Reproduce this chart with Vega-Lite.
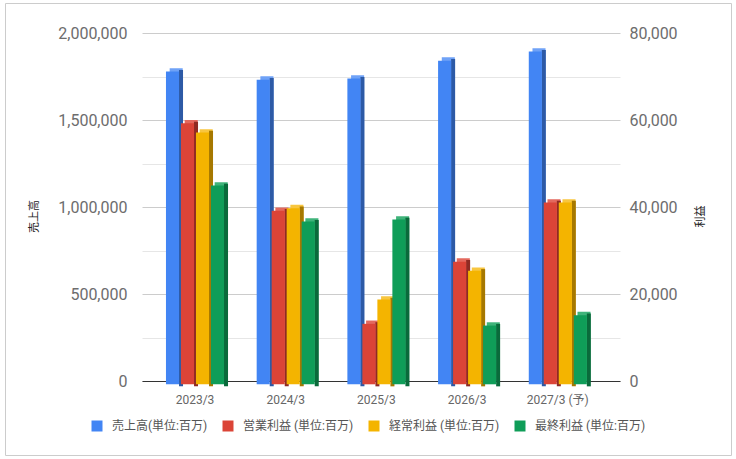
{
  "$schema": "https://vega.github.io/schema/vega-lite/v6.json",
  "width": 726,
  "height": 452,
  "autosize": "none",
  "padding": {"left": 5, "top": 3, "right": 5, "bottom": 4},
  "config": {
    "font": "Roboto, 'Noto Sans CJK JP'",
    "view": {"stroke": "#cccccc", "strokeWidth": 1}
  },
  "data": {
    "values": [
      {"year": "2023/3", "series": "売上高(単位:百万)", "value": 1797000},
      {"year": "2023/3", "series": "営業利益 (単位:百万)", "value": 60000},
      {"year": "2023/3", "series": "経常利益 (単位:百万)", "value": 57900},
      {"year": "2023/3", "series": "最終利益 (単位:百万)", "value": 45700},
      {"year": "2024/3", "series": "売上高(単位:百万)", "value": 1751000},
      {"year": "2024/3", "series": "営業利益 (単位:百万)", "value": 39900},
      {"year": "2024/3", "series": "経常利益 (単位:百万)", "value": 40500},
      {"year": "2024/3", "series": "最終利益 (単位:百万)", "value": 37400},
      {"year": "2025/3", "series": "売上高(単位:百万)", "value": 1757000},
      {"year": "2025/3", "series": "営業利益 (単位:百万)", "value": 13900},
      {"year": "2025/3", "series": "経常利益 (単位:百万)", "value": 19500},
      {"year": "2025/3", "series": "最終利益 (単位:百万)", "value": 37900},
      {"year": "2026/3", "series": "売上高(単位:百万)", "value": 1860000},
      {"year": "2026/3", "series": "営業利益 (単位:百万)", "value": 28200},
      {"year": "2026/3", "series": "経常利益 (単位:百万)", "value": 26100},
      {"year": "2026/3", "series": "最終利益 (単位:百万)", "value": 13500},
      {"year": "2027/3 (予)", "series": "売上高(単位:百万)", "value": 1912000},
      {"year": "2027/3 (予)", "series": "営業利益 (単位:百万)", "value": 41800},
      {"year": "2027/3 (予)", "series": "経常利益 (単位:百万)", "value": 41800},
      {"year": "2027/3 (予)", "series": "最終利益 (単位:百万)", "value": 15900}
    ]
  },
  "encoding": {
    "x": {
      "field": "year",
      "type": "nominal",
      "sort": null,
      "scale": {"range": [137, 615], "paddingInner": 0.338, "paddingOuter": 0.304, "align": 0.417},
      "axis": {
        "title": null,
        "labelAngle": 0,
        "offset": -74,
        "ticks": false,
        "grid": false,
        "domainColor": "#333333",
        "labelPadding": 13,
        "labelFontSize": 12,
        "labelColor": "#666666"
      }
    }
  },
  "layer": [
    {
      "transform": [{"filter": "datum.series === '売上高(単位:百万)'"}],
      "encoding": {
        "y": {
          "field": "value",
          "type": "quantitative",
          "scale": {"domain": [0, 2000000], "range": [378, 30], "nice": false},
          "axis": {
            "orient": "left",
            "offset": -137,
            "values": [0, 250000, 500000, 750000, 1000000, 1250000, 1500000, 1750000, 2000000],
            "format": ",d",
            "labelExpr": "datum.value % 500000 === 0 ? datum.label : ''",
            "domain": false,
            "ticks": false,
            "labelPadding": 15,
            "labelFontSize": 16,
            "labelColor": "#6d6d6d",
            "grid": true,
            "gridColor": {"condition": {"test": "datum.value % 500000 === 0", "value": "#cccccc"}, "value": "#e6e6e6"},
            "title": "売上高",
            "titleY": 213,
            "titleFontSize": 11,
            "titleFontWeight": "normal",
            "titleColor": "#222222",
            "titlePadding": 18
          }
        }
      },
      "layer": [
        {
          "mark": {"type": "bar"},
          "encoding": {
            "xOffset": {
              "field": "series", "type": "nominal",
              "scale": {
                "domain": ["売上高(単位:百万)", "営業利益 (単位:百万)", "経常利益 (単位:百万)", "最終利益 (単位:百万)"],
                "range": [3.7, 63.7], "paddingInner": 0.13, "paddingOuter": 0.065
              }
            },
            "fill": {
              "field": "series",
              "type": "nominal",
              "scale": {
                "domain": ["最終利益 (単位:百万)", "経常利益 (単位:百万)", "営業利益 (単位:百万)", "売上高(単位:百万)"],
                "range": ["#3fb37a", "#f8c63f", "#e3695e", "#6fa2f7"]
              },
              "legend": null
            }
          }
        },
        {
          "mark": {"type": "bar", "fillOpacity": 0, "strokeWidth": 3.7, "strokeJoin": "miter", "yOffset": 3.5, "y2Offset": 1.5},
          "encoding": {
            "xOffset": {
              "field": "series", "type": "nominal",
              "scale": {
                "domain": ["売上高(単位:百万)", "営業利益 (単位:百万)", "経常利益 (単位:百万)", "最終利益 (単位:百万)"],
                "range": [8.53, 68.53], "paddingInner": 0.98, "paddingOuter": 0.49
              }
            },
            "stroke": {
              "field": "series",
              "type": "nominal",
              "scale": {
                "domain": ["営業利益 (単位:百万)", "売上高(単位:百万)", "最終利益 (単位:百万)", "経常利益 (単位:百万)"],
                "range": ["#8f2b23", "#2d5aa6", "#0a6a3b", "#a67800"]
              },
              "legend": null
            }
          }
        },
        {
          "mark": {"type": "bar", "yOffset": 3.3, "y2Offset": 3.3},
          "encoding": {
            "xOffset": {
              "field": "series", "type": "nominal",
              "scale": {
                "domain": ["売上高(単位:百万)", "営業利益 (単位:百万)", "経常利益 (単位:百万)", "最終利益 (単位:百万)"],
                "range": [0, 60], "paddingInner": 0.13, "paddingOuter": 0.065
              }
            },
            "color": {
              "field": "series",
              "type": "nominal",
              "scale": {
                "domain": ["売上高(単位:百万)", "営業利益 (単位:百万)", "経常利益 (単位:百万)", "最終利益 (単位:百万)"],
                "range": ["#4285f4", "#db4437", "#f4b400", "#0f9d58"]
              },
              "legend": {
                "orient": "none",
                "legendX": 86,
                "legendY": 417,
                "direction": "horizontal",
                "columns": 4,
                "title": null,
                "symbolType": "square",
                "symbolSize": 121,
                "symbolStrokeWidth": 0,
                "symbolOpacity": 1,
                "labelFontSize": 12,
                "labelColor": "#555555",
                "labelOffset": 9,
                "columnPadding": 14
              }
            }
          }
        }
      ],
      "resolve": {"scale": {"xOffset": "independent"}}
    },
    {
      "transform": [{"filter": "datum.series !== '売上高(単位:百万)'"}],
      "encoding": {
        "y": {
          "field": "value",
          "type": "quantitative",
          "scale": {"domain": [0, 80000], "range": [378, 30], "nice": false},
          "axis": {
            "orient": "right",
            "offset": -111,
            "values": [0, 20000, 40000, 60000, 80000],
            "format": ",d",
            "domain": false,
            "ticks": false,
            "grid": false,
            "labelPadding": 9,
            "labelFontSize": 16,
            "labelColor": "#6d6d6d",
            "title": "利益",
            "titleAngle": 270,
            "titleY": 213,
            "titleFontSize": 11,
            "titleFontWeight": "normal",
            "titleColor": "#222222",
            "titlePadding": 28
          }
        }
      },
      "layer": [
        {
          "mark": {"type": "bar"},
          "encoding": {
            "xOffset": {
              "field": "series", "type": "nominal",
              "scale": {
                "domain": ["売上高(単位:百万)", "営業利益 (単位:百万)", "経常利益 (単位:百万)", "最終利益 (単位:百万)"],
                "range": [3.7, 63.7], "paddingInner": 0.13, "paddingOuter": 0.065
              }
            },
            "fill": {
              "field": "series",
              "type": "nominal",
              "scale": {
                "domain": ["最終利益 (単位:百万)", "経常利益 (単位:百万)", "営業利益 (単位:百万)", "売上高(単位:百万)"],
                "range": ["#3fb37a", "#f8c63f", "#e3695e", "#6fa2f7"]
              },
              "legend": null
            }
          }
        },
        {
          "mark": {"type": "bar", "fillOpacity": 0, "strokeWidth": 3.7, "strokeJoin": "miter", "yOffset": 3.5, "y2Offset": 1.5},
          "encoding": {
            "xOffset": {
              "field": "series", "type": "nominal",
              "scale": {
                "domain": ["売上高(単位:百万)", "営業利益 (単位:百万)", "経常利益 (単位:百万)", "最終利益 (単位:百万)"],
                "range": [8.53, 68.53], "paddingInner": 0.98, "paddingOuter": 0.49
              }
            },
            "stroke": {
              "field": "series",
              "type": "nominal",
              "scale": {
                "domain": ["営業利益 (単位:百万)", "売上高(単位:百万)", "最終利益 (単位:百万)", "経常利益 (単位:百万)"],
                "range": ["#8f2b23", "#2d5aa6", "#0a6a3b", "#a67800"]
              },
              "legend": null
            }
          }
        },
        {
          "mark": {"type": "bar", "yOffset": 3.3, "y2Offset": 3.3},
          "encoding": {
            "xOffset": {
              "field": "series", "type": "nominal",
              "scale": {
                "domain": ["売上高(単位:百万)", "営業利益 (単位:百万)", "経常利益 (単位:百万)", "最終利益 (単位:百万)"],
                "range": [0, 60], "paddingInner": 0.13, "paddingOuter": 0.065
              }
            },
            "color": {
              "field": "series",
              "type": "nominal",
              "scale": {
                "domain": ["売上高(単位:百万)", "営業利益 (単位:百万)", "経常利益 (単位:百万)", "最終利益 (単位:百万)"],
                "range": ["#4285f4", "#db4437", "#f4b400", "#0f9d58"]
              },
              "legend": {
                "orient": "none",
                "legendX": 86,
                "legendY": 417,
                "direction": "horizontal",
                "columns": 4,
                "title": null,
                "symbolType": "square",
                "symbolSize": 121,
                "symbolStrokeWidth": 0,
                "symbolOpacity": 1,
                "labelFontSize": 12,
                "labelColor": "#555555",
                "labelOffset": 9,
                "columnPadding": 14
              }
            }
          }
        }
      ],
      "resolve": {"scale": {"xOffset": "independent"}}
    }
  ],
  "resolve": {"scale": {"y": "independent", "xOffset": "independent"}, "axis": {"y": "independent"}}
}
